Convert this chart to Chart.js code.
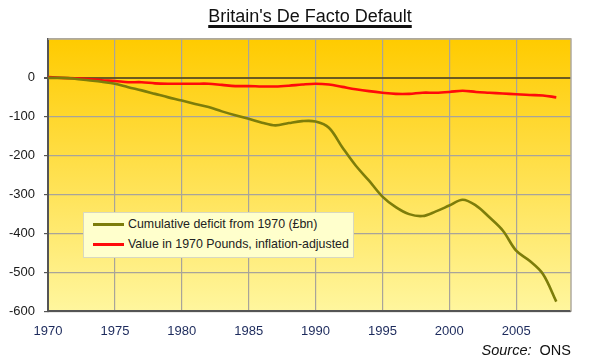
<!DOCTYPE html>
<html>
<head>
<meta charset="utf-8">
<script src="https://cdn.jsdelivr.net/npm/chart.js@4.4.1/dist/chart.umd.min.js"></script>
<style>
    html, body { margin: 0; padding: 0; background: #fff; }
    .wrap { position: relative; width: 600px; height: 359px; font-family: 'Liberation Sans', Arial, sans-serif; }
    canvas { position: absolute; left: 0; top: 0; }
    .title {
        position: absolute; left: 0; width: 620px; top: 6px; text-align: center;
        font-size: 18px; line-height: 21px; color: #111; text-decoration: underline;
        text-decoration-thickness: 2.5px; text-underline-offset: 3px;
    }
    .legend {
        position: absolute; left: 83px; top: 212px; width: 269px; height: 44px;
        background: #FFFFCC; border: 1px solid #d8d8c0; font-size: 12.4px; color: #222;
    }
    .legend-row { position: absolute; left: 9px; height: 18px; line-height: 18px; white-space: nowrap; }
    .legend-row span.swatch { display: inline-block; width: 31px; height: 3px; vertical-align: middle; margin-right: 4px; }
    .source { position: absolute; right: 29px; top: 342px; font-size: 14.5px; color: #111; }
</style>
</head>
<body>
<div class="wrap">
    <canvas id="chart" width="600" height="359"></canvas>
    <div class="title">Britain's De Facto Default</div>
    <div class="legend" id="legend"></div>
    <div class="source"><i>Source:</i>&nbsp; ONS</div>
</div>
<script>
const years = [1970, 1971, 1972, 1973, 1974, 1975, 1976, 1977, 1978, 1979,
    1980, 1981, 1982, 1983, 1984, 1985, 1986, 1987, 1988, 1989,
    1990, 1991, 1992, 1993, 1994, 1995, 1996, 1997, 1998, 1999,
    2000, 2001, 2002, 2003, 2004, 2005, 2006, 2007, 2008];

const cumulativeDeficit = [0, 0, -2, -6, -10, -15, -24, -32, -41, -50,
    -58, -67, -75, -86, -96, -105, -115, -122, -116, -111,
    -112, -128, -178, -225, -264, -305, -332, -350, -355, -343,
    -328, -313, -328, -358, -392, -444, -470, -504, -575];

const value1970 = [2, 0, -1, -3, -6, -8, -11, -11, -14, -15,
    -15, -15, -15, -18, -21, -21, -22, -22, -20, -17,
    -15, -17, -23, -29, -34, -38, -41, -41, -38, -38,
    -36, -33, -36, -38, -40, -42, -44, -45, -50];

const xTicks = [1970, 1975, 1980, 1985, 1990, 1995, 2000, 2005];
const yTicks = [-600, -500, -400, -300, -200, -100, 0, 100];

const seriesNames = ['Cumulative deficit from 1970 (£bn)', 'Value in 1970 Pounds, inflation-adjusted'];
const seriesColors = ['#7d7d0a', '#ff0a0a'];

const plotBg = {
    id: 'plotBg',
    beforeDraw(chart) {
        const { ctx, chartArea: a } = chart;
        const g = ctx.createLinearGradient(0, a.top, 0, a.bottom);
        g.addColorStop(0, '#FFCB00');
        g.addColorStop(1, '#FFF69E');
        ctx.save();
        ctx.fillStyle = g;
        ctx.fillRect(a.left, a.top, a.right - a.left, a.bottom - a.top);
        ctx.restore();
    },
    afterDatasetsDraw(chart) {
        const { ctx, chartArea: a } = chart;
        ctx.save();
        ctx.strokeStyle = '#b0aaa0';
        ctx.lineWidth = 1.5;
        ctx.beginPath();
        ctx.moveTo(a.left, a.top);
        ctx.lineTo(a.right, a.top);
        ctx.lineTo(a.right, a.bottom);
        ctx.stroke();
        ctx.restore();
    }
};

const ds = (data, i) => ({
    label: seriesNames[i],
    data: years.map((y, k) => ({ x: y, y: data[k] })),
    borderColor: seriesColors[i],
    borderWidth: 2.6,
    pointRadius: 0,
    tension: 0.35,
    fill: false
});

new Chart(document.getElementById('chart'), {
    type: 'line',
    data: { datasets: [ds(cumulativeDeficit, 0), ds(value1970, 1)] },
    plugins: [plotBg],
    options: {
        responsive: false,
        animation: false,
        layout: { padding: { left: 0, right: 29, top: 39, bottom: 8 } },
        plugins: { legend: { display: false }, tooltip: { enabled: false } },
        scales: {
            x: {
                type: 'linear',
                min: 1970,
                max: 2009.1,
                afterBuildTicks: s => { s.ticks = xTicks.map(v => ({ value: v })); },
                grid: { color: '#a8a49a', lineWidth: 1.2, drawTicks: false },
                border: { color: '#555', width: 2 },
                ticks: { color: '#1c2a5c', font: { size: 13, family: 'Liberation Sans' }, padding: 12, callback: v => v }
            },
            y: {
                min: -600,
                max: 100,
                afterBuildTicks: s => { s.ticks = yTicks.map(v => ({ value: v })); },
                grid: {
                    color: c => c.tick && c.tick.value === 0 ? '#6b5a20' : '#a8a49a',
                    lineWidth: c => c.tick && c.tick.value === 0 ? 2 : 1.2,
                    tickLength: 4,
                    tickColor: c => c.tick && c.tick.value === 100 ? 'rgba(0,0,0,0)' : '#555'
                },
                border: { color: '#555', width: 2 },
                ticks: {
                    color: '#1a1a1a',
                    font: { size: 13, family: 'Liberation Sans' },
                    padding: 9,
                    callback: v => v === 100 ? '' : v
                }
            }
        }
    }
});

document.getElementById('legend').innerHTML = seriesNames.map((n, i) =>
    `<div class="legend-row" style="top:${2 + i * 20}px"><span class="swatch" style="background:${seriesColors[i]}"></span>${n}</div>`
).join('');
</script>
</body>
</html>
